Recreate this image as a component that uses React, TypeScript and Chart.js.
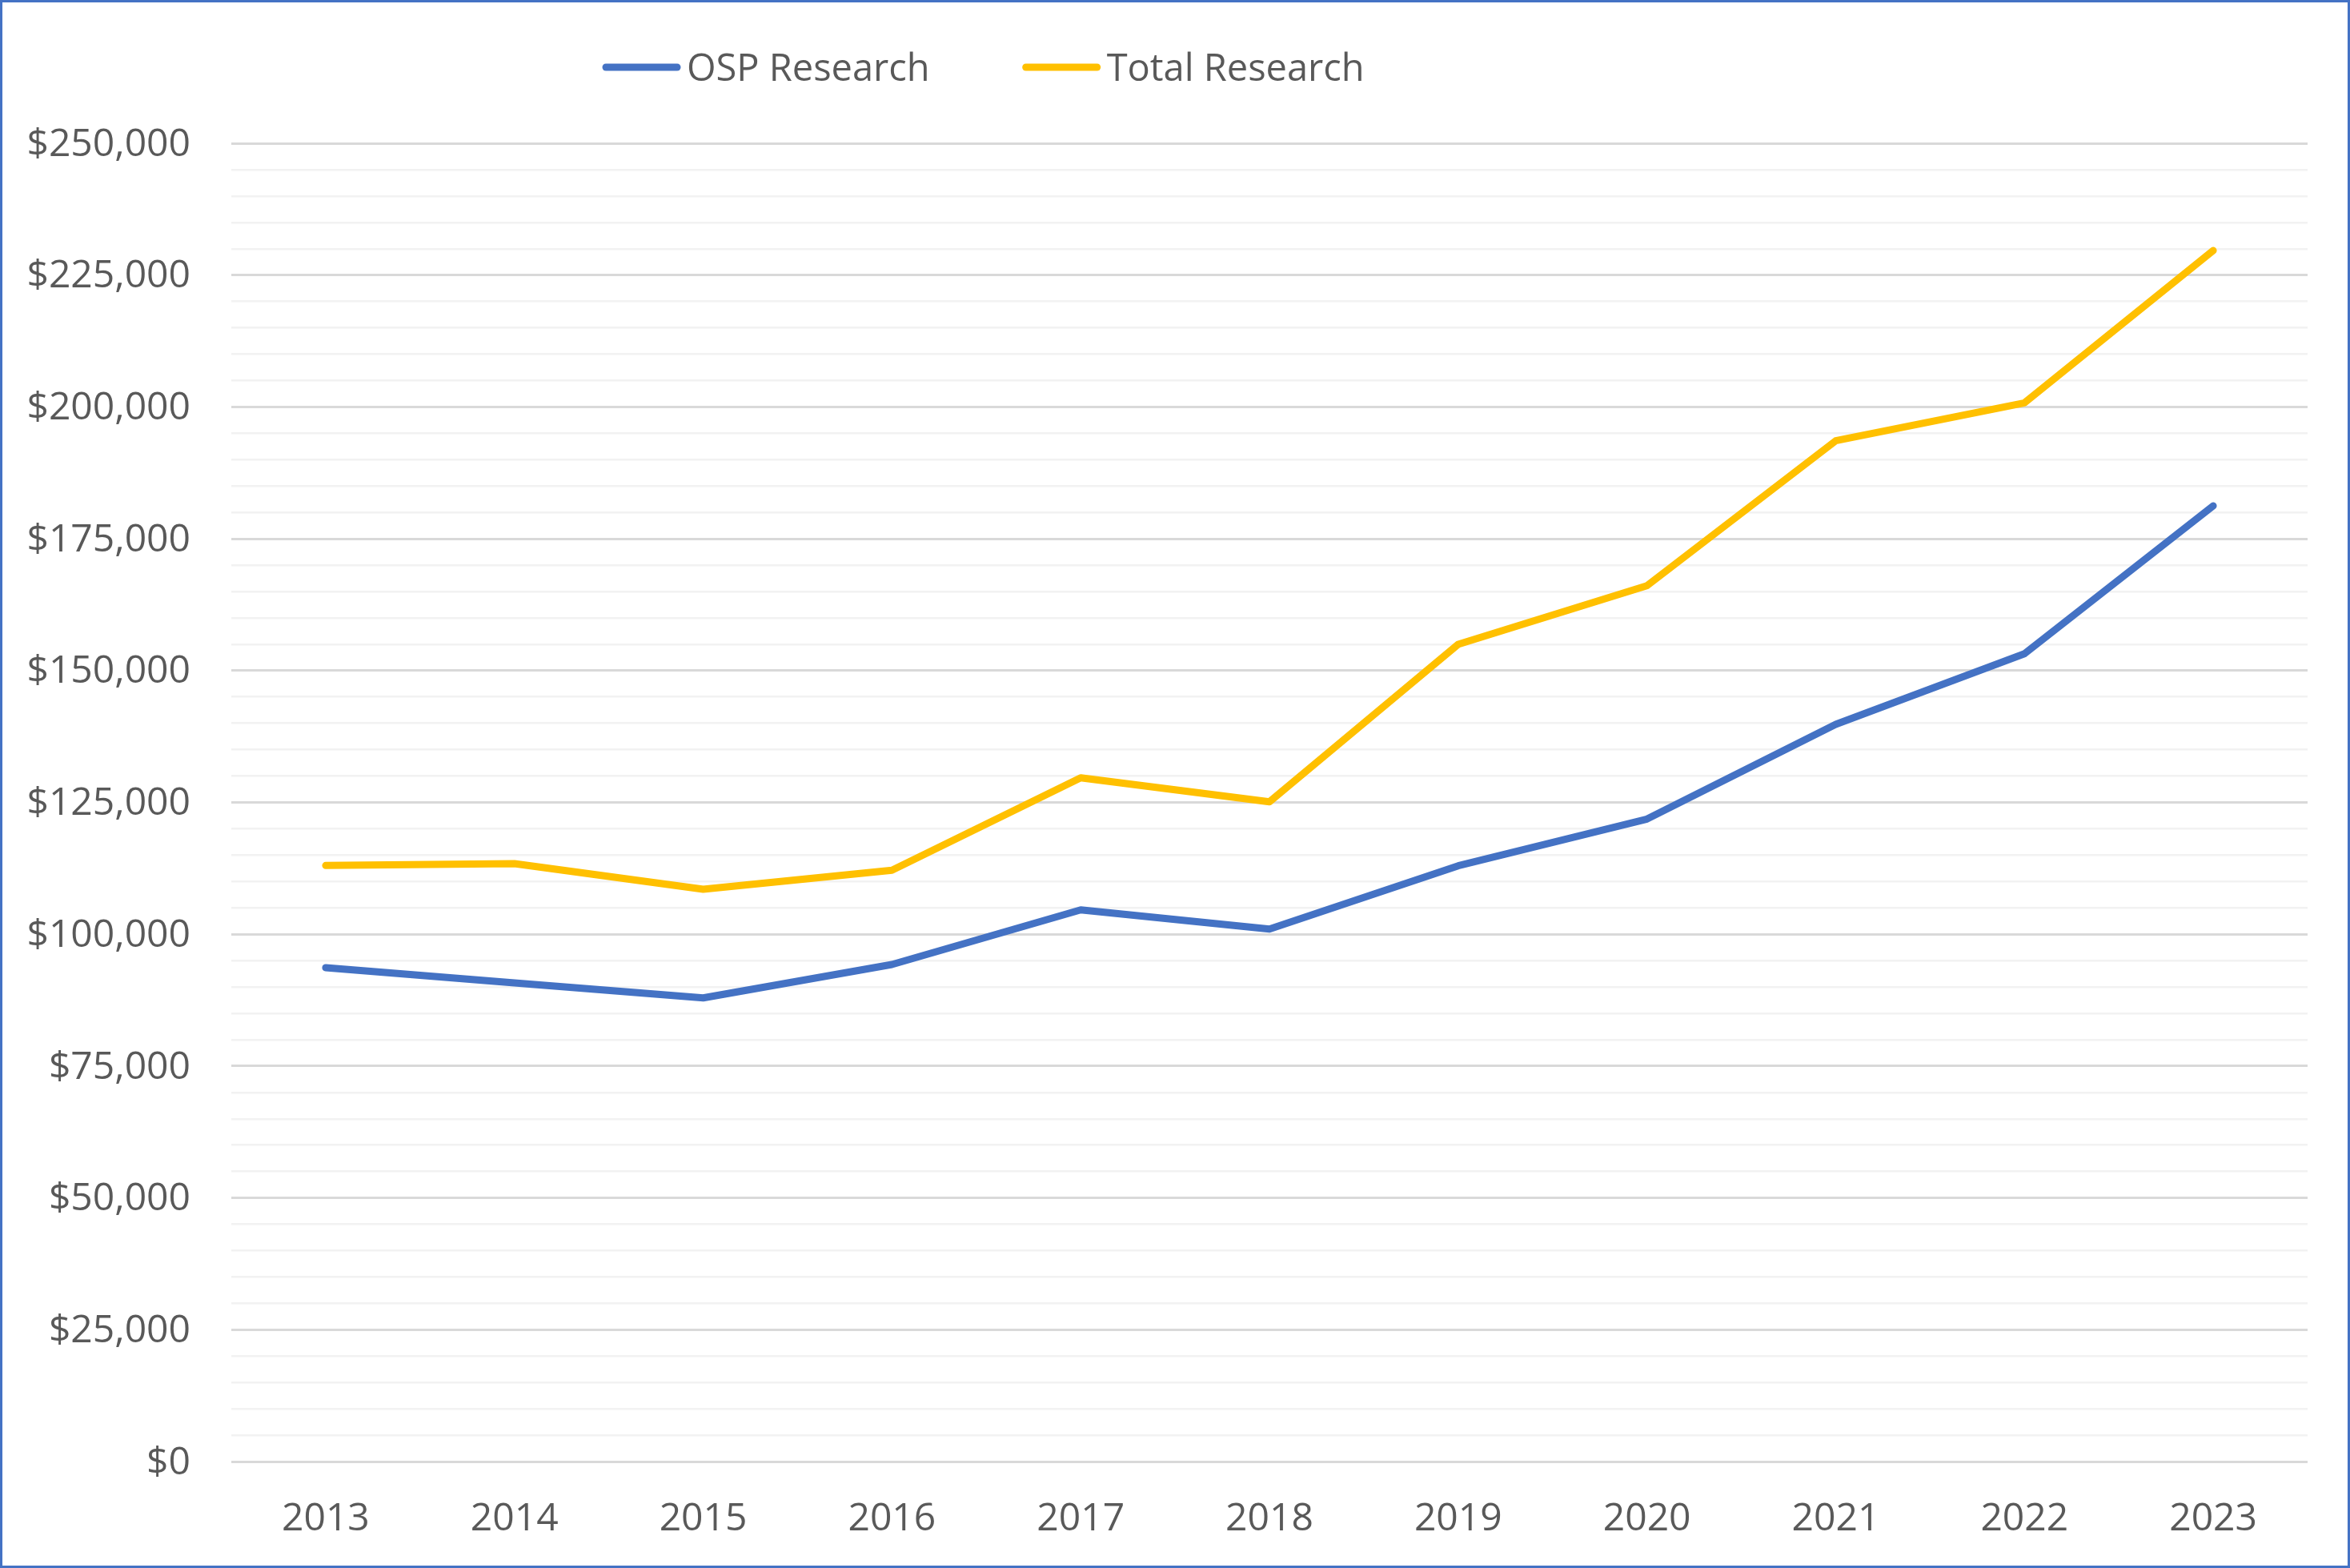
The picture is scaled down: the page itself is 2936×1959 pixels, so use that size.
import React, { useEffect, useRef } from 'react';
import { Chart, registerables } from 'chart.js';

Chart.register(...registerables);

const years = ['2013', '2014', '2015', '2016', '2017', '2018', '2019', '2020', '2021', '2022', '2023'];
const ospResearch = [93650, 90770, 87930, 94260, 104630, 100990, 112980, 121840, 139800, 153200, 181240];
const totalResearch = [113040, 113390, 108530, 112130, 129680, 125120, 154980, 166100, 193580, 200770, 229660];
const seriesNames = ['OSP Research', 'Total Research'];
const seriesColors = ['#4472C4', '#FFC000'];
const yTickLabels = ['$0', '$25,000', '$50,000', '$75,000', '$100,000', '$125,000', '$150,000', '$175,000', '$200,000', '$225,000', '$250,000'];

const W = 2936;
const H = 1959;
const FONT = "'Open Sans', 'Noto Sans', sans-serif";
const TEXT = '#595959';

const legendPlugin = {
  id: 'customLegend',
  afterDraw(chart: any) {
    const ctx = chart.ctx;
    ctx.save();
    ctx.font = `47px ${FONT}`;
    ctx.textBaseline = 'alphabetic';
    ctx.textAlign = 'left';
    let x = 757;
    const cy = 84;
    chart.data.datasets.forEach((ds: any) => {
      ctx.strokeStyle = ds.borderColor;
      ctx.lineWidth = 9;
      ctx.lineCap = 'round';
      ctx.beginPath();
      ctx.moveTo(x, cy);
      ctx.lineTo(x + 89, cy);
      ctx.stroke();
      ctx.fillStyle = TEXT;
      ctx.fillText(ds.label, x + 101, cy + 17);
      x = x + 101 + ctx.measureText(ds.label).width + 120;
    });
    ctx.restore();
  },
};

export default function App() {
  const ref = useRef<HTMLCanvasElement | null>(null);

  useEffect(() => {
    if (!ref.current) return;
    const chart = new Chart(ref.current, {
      type: 'line',
      data: {
        labels: years,
        datasets: [
          {
            label: seriesNames[0],
            data: ospResearch,
            borderColor: seriesColors[0],
            backgroundColor: seriesColors[0],
            borderWidth: 9,
            borderCapStyle: 'round',
            borderJoinStyle: 'round',
            pointRadius: 0,
            tension: 0,
          },
          {
            label: seriesNames[1],
            data: totalResearch,
            borderColor: seriesColors[1],
            backgroundColor: seriesColors[1],
            borderWidth: 9,
            borderCapStyle: 'round',
            borderJoinStyle: 'round',
            pointRadius: 0,
            tension: 0,
          },
        ],
      },
      options: {
        responsive: false,
        animation: false,
        devicePixelRatio: 1,
        layout: { padding: { left: 0, right: 53, top: 179, bottom: 33 } },
        plugins: {
          legend: { display: false },
          tooltip: { enabled: false },
          title: { display: false },
        },
        scales: {
          x: {
            offset: true,
            grid: { display: false, drawTicks: false },
            border: { display: false },
            ticks: {
              color: TEXT,
              font: { family: FONT, size: 48 },
              padding: 44,
              maxRotation: 0,
              autoSkip: false,
            },
            afterFit: (scale: any) => {
              scale.height = 100;
            },
          },
          y: {
            min: 0,
            max: 250000,
            grid: {
              drawTicks: false,
              color: (c: any) => (c.tick && c.tick.value % 25000 === 0 ? '#D9D9D9' : '#F2F2F2'),
              lineWidth: (c: any) => (c.tick && c.tick.value % 25000 === 0 ? 3 : 2.5),
            },
            border: { display: false },
            ticks: {
              stepSize: 5000,
              autoSkip: false,
              color: TEXT,
              font: { family: FONT, size: 48 },
              padding: 51,
              labelOffset: 2,
              callback: (v: any) => {
                const n = Number(v);
                return n % 25000 === 0 ? yTickLabels[n / 25000] : '';
              },
            },
            afterFit: (scale: any) => {
              scale.width = 289;
            },
          },
        },
      },
      plugins: [legendPlugin],
    } as any);
    return () => chart.destroy();
  }, []);

  return (
    <div style={{ position: 'fixed', left: 0, top: 0, width: W, height: H, background: '#FFFFFF' }}>
      <canvas ref={ref} width={W} height={H} style={{ display: 'block', width: W, height: H }} />
      <div
        style={{
          position: 'absolute',
          left: 0,
          top: 0,
          width: W,
          height: H,
          boxSizing: 'border-box',
          border: '3px solid #4472C4',
          pointerEvents: 'none',
        }}
      />
    </div>
  );
}
